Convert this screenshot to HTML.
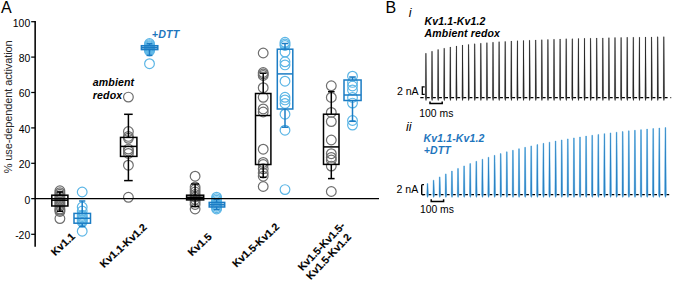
<!DOCTYPE html><html><head><meta charset="utf-8"><style>html,body{margin:0;padding:0;background:#fff}svg{display:block}text{font-family:"Liberation Sans",sans-serif}</style></head><body>
<svg width="675" height="281" viewBox="0 0 675 281">
<rect width="675" height="281" fill="#fff"/>
<circle cx="59.9" cy="190.8" r="4.85" fill="none" stroke="#6e6e6e" stroke-width="1.2"/>
<circle cx="59.9" cy="192.7" r="4.85" fill="none" stroke="#6e6e6e" stroke-width="1.2"/>
<circle cx="59.9" cy="194.3" r="4.85" fill="none" stroke="#6e6e6e" stroke-width="1.2"/>
<circle cx="59.9" cy="196" r="4.85" fill="none" stroke="#6e6e6e" stroke-width="1.2"/>
<circle cx="59.9" cy="197.5" r="4.85" fill="none" stroke="#6e6e6e" stroke-width="1.2"/>
<circle cx="59.9" cy="199" r="4.85" fill="none" stroke="#6e6e6e" stroke-width="1.2"/>
<circle cx="59.9" cy="200.5" r="4.85" fill="none" stroke="#6e6e6e" stroke-width="1.2"/>
<circle cx="59.9" cy="202" r="4.85" fill="none" stroke="#6e6e6e" stroke-width="1.2"/>
<circle cx="59.9" cy="203.5" r="4.85" fill="none" stroke="#6e6e6e" stroke-width="1.2"/>
<circle cx="59.9" cy="205" r="4.85" fill="none" stroke="#6e6e6e" stroke-width="1.2"/>
<circle cx="59.9" cy="206.5" r="4.85" fill="none" stroke="#6e6e6e" stroke-width="1.2"/>
<circle cx="59.9" cy="209.1" r="4.85" fill="none" stroke="#6e6e6e" stroke-width="1.2"/>
<circle cx="59.9" cy="210.3" r="4.85" fill="none" stroke="#6e6e6e" stroke-width="1.2"/>
<circle cx="59.9" cy="211.5" r="4.85" fill="none" stroke="#6e6e6e" stroke-width="1.2"/>
<circle cx="59.9" cy="218.6" r="4.85" fill="none" stroke="#6e6e6e" stroke-width="1.2"/>
<circle cx="82.2" cy="192" r="4.85" fill="none" stroke="#5cb6e6" stroke-width="1.2"/>
<circle cx="82.2" cy="207" r="4.85" fill="none" stroke="#5cb6e6" stroke-width="1.2"/>
<circle cx="82.2" cy="211" r="4.85" fill="none" stroke="#5cb6e6" stroke-width="1.2"/>
<circle cx="82.2" cy="215.2" r="4.85" fill="none" stroke="#5cb6e6" stroke-width="1.2"/>
<circle cx="82.2" cy="216.6" r="4.85" fill="none" stroke="#5cb6e6" stroke-width="1.2"/>
<circle cx="82.2" cy="218" r="4.85" fill="none" stroke="#5cb6e6" stroke-width="1.2"/>
<circle cx="82.2" cy="219.4" r="4.85" fill="none" stroke="#5cb6e6" stroke-width="1.2"/>
<circle cx="82.2" cy="220.8" r="4.85" fill="none" stroke="#5cb6e6" stroke-width="1.2"/>
<circle cx="82.2" cy="222.2" r="4.85" fill="none" stroke="#5cb6e6" stroke-width="1.2"/>
<circle cx="82.2" cy="231.2" r="4.85" fill="none" stroke="#5cb6e6" stroke-width="1.2"/>
<circle cx="128.4" cy="97.1" r="4.85" fill="none" stroke="#6e6e6e" stroke-width="1.2"/>
<circle cx="128.4" cy="131.5" r="4.85" fill="none" stroke="#6e6e6e" stroke-width="1.2"/>
<circle cx="128.4" cy="136.4" r="4.85" fill="none" stroke="#6e6e6e" stroke-width="1.2"/>
<circle cx="128.4" cy="138.3" r="4.85" fill="none" stroke="#6e6e6e" stroke-width="1.2"/>
<circle cx="128.4" cy="149.1" r="4.85" fill="none" stroke="#6e6e6e" stroke-width="1.2"/>
<circle cx="128.4" cy="151" r="4.85" fill="none" stroke="#6e6e6e" stroke-width="1.2"/>
<circle cx="128.4" cy="153.4" r="4.85" fill="none" stroke="#6e6e6e" stroke-width="1.2"/>
<circle cx="128.4" cy="165.2" r="4.85" fill="none" stroke="#6e6e6e" stroke-width="1.2"/>
<circle cx="128.4" cy="197.3" r="4.85" fill="none" stroke="#6e6e6e" stroke-width="1.2"/>
<circle cx="149.5" cy="43.5" r="4.85" fill="none" stroke="#5cb6e6" stroke-width="1.2"/>
<circle cx="149.5" cy="44.6" r="4.85" fill="none" stroke="#5cb6e6" stroke-width="1.2"/>
<circle cx="149.5" cy="45.7" r="4.85" fill="none" stroke="#5cb6e6" stroke-width="1.2"/>
<circle cx="149.5" cy="46.8" r="4.85" fill="none" stroke="#5cb6e6" stroke-width="1.2"/>
<circle cx="149.5" cy="47.9" r="4.85" fill="none" stroke="#5cb6e6" stroke-width="1.2"/>
<circle cx="149.5" cy="49" r="4.85" fill="none" stroke="#5cb6e6" stroke-width="1.2"/>
<circle cx="149.5" cy="50.1" r="4.85" fill="none" stroke="#5cb6e6" stroke-width="1.2"/>
<circle cx="149.5" cy="51" r="4.85" fill="none" stroke="#5cb6e6" stroke-width="1.2"/>
<circle cx="149.5" cy="63.7" r="4.85" fill="none" stroke="#5cb6e6" stroke-width="1.2"/>
<circle cx="195.1" cy="176.2" r="4.85" fill="none" stroke="#6e6e6e" stroke-width="1.2"/>
<circle cx="195.1" cy="187" r="4.85" fill="none" stroke="#6e6e6e" stroke-width="1.2"/>
<circle cx="195.1" cy="189.5" r="4.85" fill="none" stroke="#6e6e6e" stroke-width="1.2"/>
<circle cx="195.1" cy="192" r="4.85" fill="none" stroke="#6e6e6e" stroke-width="1.2"/>
<circle cx="195.1" cy="194.5" r="4.85" fill="none" stroke="#6e6e6e" stroke-width="1.2"/>
<circle cx="195.1" cy="197" r="4.85" fill="none" stroke="#6e6e6e" stroke-width="1.2"/>
<circle cx="195.1" cy="199.5" r="4.85" fill="none" stroke="#6e6e6e" stroke-width="1.2"/>
<circle cx="195.1" cy="202" r="4.85" fill="none" stroke="#6e6e6e" stroke-width="1.2"/>
<circle cx="195.1" cy="204.5" r="4.85" fill="none" stroke="#6e6e6e" stroke-width="1.2"/>
<circle cx="195.1" cy="209" r="4.85" fill="none" stroke="#6e6e6e" stroke-width="1.2"/>
<circle cx="216.6" cy="197.2" r="4.85" fill="none" stroke="#5cb6e6" stroke-width="1.2"/>
<circle cx="216.6" cy="198.7" r="4.85" fill="none" stroke="#5cb6e6" stroke-width="1.2"/>
<circle cx="216.6" cy="200.2" r="4.85" fill="none" stroke="#5cb6e6" stroke-width="1.2"/>
<circle cx="216.6" cy="201.7" r="4.85" fill="none" stroke="#5cb6e6" stroke-width="1.2"/>
<circle cx="216.6" cy="203.2" r="4.85" fill="none" stroke="#5cb6e6" stroke-width="1.2"/>
<circle cx="216.6" cy="204.7" r="4.85" fill="none" stroke="#5cb6e6" stroke-width="1.2"/>
<circle cx="216.6" cy="206.2" r="4.85" fill="none" stroke="#5cb6e6" stroke-width="1.2"/>
<circle cx="216.6" cy="207.7" r="4.85" fill="none" stroke="#5cb6e6" stroke-width="1.2"/>
<circle cx="216.6" cy="209" r="4.85" fill="none" stroke="#5cb6e6" stroke-width="1.2"/>
<circle cx="263.2" cy="53" r="4.85" fill="none" stroke="#6e6e6e" stroke-width="1.2"/>
<circle cx="263.2" cy="72.5" r="4.85" fill="none" stroke="#6e6e6e" stroke-width="1.2"/>
<circle cx="263.2" cy="74" r="4.85" fill="none" stroke="#6e6e6e" stroke-width="1.2"/>
<circle cx="263.2" cy="75.5" r="4.85" fill="none" stroke="#6e6e6e" stroke-width="1.2"/>
<circle cx="263.2" cy="87.7" r="4.85" fill="none" stroke="#6e6e6e" stroke-width="1.2"/>
<circle cx="263.2" cy="97.3" r="4.85" fill="none" stroke="#6e6e6e" stroke-width="1.2"/>
<circle cx="263.2" cy="108.9" r="4.85" fill="none" stroke="#6e6e6e" stroke-width="1.2"/>
<circle cx="263.2" cy="112" r="4.85" fill="none" stroke="#6e6e6e" stroke-width="1.2"/>
<circle cx="263.2" cy="149.2" r="4.85" fill="none" stroke="#6e6e6e" stroke-width="1.2"/>
<circle cx="263.2" cy="162.4" r="4.85" fill="none" stroke="#6e6e6e" stroke-width="1.2"/>
<circle cx="263.2" cy="164.5" r="4.85" fill="none" stroke="#6e6e6e" stroke-width="1.2"/>
<circle cx="263.2" cy="168.8" r="4.85" fill="none" stroke="#6e6e6e" stroke-width="1.2"/>
<circle cx="263.2" cy="173" r="4.85" fill="none" stroke="#6e6e6e" stroke-width="1.2"/>
<circle cx="263.2" cy="176.2" r="4.85" fill="none" stroke="#6e6e6e" stroke-width="1.2"/>
<circle cx="263.2" cy="186.5" r="4.85" fill="none" stroke="#6e6e6e" stroke-width="1.2"/>
<circle cx="285" cy="42.3" r="4.85" fill="none" stroke="#5cb6e6" stroke-width="1.2"/>
<circle cx="285" cy="44" r="4.85" fill="none" stroke="#5cb6e6" stroke-width="1.2"/>
<circle cx="285" cy="45.5" r="4.85" fill="none" stroke="#5cb6e6" stroke-width="1.2"/>
<circle cx="285" cy="52.1" r="4.85" fill="none" stroke="#5cb6e6" stroke-width="1.2"/>
<circle cx="285" cy="61.8" r="4.85" fill="none" stroke="#5cb6e6" stroke-width="1.2"/>
<circle cx="285" cy="64.9" r="4.85" fill="none" stroke="#5cb6e6" stroke-width="1.2"/>
<circle cx="285" cy="81.2" r="4.85" fill="none" stroke="#5cb6e6" stroke-width="1.2"/>
<circle cx="285" cy="97.3" r="4.85" fill="none" stroke="#5cb6e6" stroke-width="1.2"/>
<circle cx="285" cy="99.9" r="4.85" fill="none" stroke="#5cb6e6" stroke-width="1.2"/>
<circle cx="285" cy="103.5" r="4.85" fill="none" stroke="#5cb6e6" stroke-width="1.2"/>
<circle cx="285" cy="114.2" r="4.85" fill="none" stroke="#5cb6e6" stroke-width="1.2"/>
<circle cx="285" cy="130.2" r="4.85" fill="none" stroke="#5cb6e6" stroke-width="1.2"/>
<circle cx="285" cy="189.6" r="4.85" fill="none" stroke="#5cb6e6" stroke-width="1.2"/>
<circle cx="331.3" cy="85.8" r="4.85" fill="none" stroke="#6e6e6e" stroke-width="1.2"/>
<circle cx="331.3" cy="97.4" r="4.85" fill="none" stroke="#6e6e6e" stroke-width="1.2"/>
<circle cx="331.3" cy="112.4" r="4.85" fill="none" stroke="#6e6e6e" stroke-width="1.2"/>
<circle cx="331.3" cy="121.6" r="4.85" fill="none" stroke="#6e6e6e" stroke-width="1.2"/>
<circle cx="331.3" cy="140" r="4.85" fill="none" stroke="#6e6e6e" stroke-width="1.2"/>
<circle cx="331.3" cy="153.7" r="4.85" fill="none" stroke="#6e6e6e" stroke-width="1.2"/>
<circle cx="331.3" cy="157.4" r="4.85" fill="none" stroke="#6e6e6e" stroke-width="1.2"/>
<circle cx="331.3" cy="159.9" r="4.85" fill="none" stroke="#6e6e6e" stroke-width="1.2"/>
<circle cx="331.3" cy="166.1" r="4.85" fill="none" stroke="#6e6e6e" stroke-width="1.2"/>
<circle cx="331.3" cy="191.5" r="4.85" fill="none" stroke="#6e6e6e" stroke-width="1.2"/>
<circle cx="352.5" cy="76.2" r="4.85" fill="none" stroke="#5cb6e6" stroke-width="1.2"/>
<circle cx="352.5" cy="82.4" r="4.85" fill="none" stroke="#5cb6e6" stroke-width="1.2"/>
<circle cx="352.5" cy="86" r="4.85" fill="none" stroke="#5cb6e6" stroke-width="1.2"/>
<circle cx="352.5" cy="90" r="4.85" fill="none" stroke="#5cb6e6" stroke-width="1.2"/>
<circle cx="352.5" cy="97.4" r="4.85" fill="none" stroke="#5cb6e6" stroke-width="1.2"/>
<circle cx="352.5" cy="103.1" r="4.85" fill="none" stroke="#5cb6e6" stroke-width="1.2"/>
<circle cx="352.5" cy="120.5" r="4.85" fill="none" stroke="#5cb6e6" stroke-width="1.2"/>
<circle cx="352.5" cy="125.1" r="4.85" fill="none" stroke="#5cb6e6" stroke-width="1.2"/>
<g stroke="#000" stroke-width="1.5" fill="none">
<rect x="51.8" y="195.2" width="16.10000000000001" height="10.800000000000011" fill="#000" fill-opacity="0"/>
<line x1="51.8" y1="200.2" x2="67.9" y2="200.2"/>
<line x1="59.9" y1="192" x2="59.9" y2="195.2"/>
<line x1="59.9" y1="206" x2="59.9" y2="211.3"/>
<line x1="56.8" y1="192" x2="63.0" y2="192"/>
<line x1="56.8" y1="211.3" x2="63.0" y2="211.3"/>
</g>
<g stroke="#1b7cc4" stroke-width="1.5" fill="none">
<rect x="74" y="213.4" width="16.5" height="9.799999999999983" fill="#1b7cc4" fill-opacity="0"/>
<line x1="74" y1="218.3" x2="90.5" y2="218.3"/>
<line x1="82.2" y1="201" x2="82.2" y2="213.4"/>
<line x1="82.2" y1="223.2" x2="82.2" y2="226.5"/>
<line x1="79.10000000000001" y1="201" x2="85.3" y2="201"/>
<line x1="79.10000000000001" y1="226.5" x2="85.3" y2="226.5"/>
</g>
<g stroke="#000" stroke-width="1.5" fill="none">
<rect x="120.5" y="137.4" width="16.400000000000006" height="19.0" fill="#000" fill-opacity="0"/>
<line x1="120.5" y1="146.4" x2="136.9" y2="146.4"/>
<line x1="128.4" y1="114.3" x2="128.4" y2="137.4"/>
<line x1="128.4" y1="156.4" x2="128.4" y2="180.6"/>
<line x1="124.10000000000001" y1="114.3" x2="132.70000000000002" y2="114.3"/>
<line x1="124.10000000000001" y1="180.6" x2="132.70000000000002" y2="180.6"/>
</g>
<g stroke="#1b7cc4" stroke-width="1.5" fill="none">
<rect x="141.4" y="45.7" width="16.400000000000006" height="3.8999999999999986" fill="#1b7cc4" fill-opacity="0.35"/>
<line x1="141.4" y1="47.65" x2="157.8" y2="47.65"/>
<line x1="149.5" y1="43.7" x2="149.5" y2="45.7"/>
<line x1="149.5" y1="49.6" x2="149.5" y2="55.4"/>
<line x1="146.6" y1="43.7" x2="152.4" y2="43.7"/>
<line x1="146.6" y1="55.4" x2="152.4" y2="55.4"/>
</g>
<g stroke="#000" stroke-width="1.5" fill="none">
<rect x="186.6" y="195.2" width="17.099999999999994" height="4.700000000000017" fill="#000" fill-opacity="0.35"/>
<line x1="186.6" y1="197.5" x2="203.7" y2="197.5"/>
<line x1="195.1" y1="184" x2="195.1" y2="195.2"/>
<line x1="195.1" y1="199.9" x2="195.1" y2="206.5"/>
<line x1="191.2" y1="184" x2="199.0" y2="184"/>
<line x1="191.2" y1="206.5" x2="199.0" y2="206.5"/>
</g>
<g stroke="#1b7cc4" stroke-width="1.5" fill="none">
<rect x="209.2" y="202.4" width="15.5" height="4.599999999999994" fill="#1b7cc4" fill-opacity="0.3"/>
<line x1="209.2" y1="204.7" x2="224.7" y2="204.7"/>
<line x1="216.6" y1="199.5" x2="216.6" y2="202.4"/>
<line x1="216.6" y1="207" x2="216.6" y2="209.5"/>
<line x1="213.6" y1="199.5" x2="219.6" y2="199.5"/>
<line x1="213.6" y1="209.5" x2="219.6" y2="209.5"/>
</g>
<g stroke="#000" stroke-width="1.5" fill="none">
<rect x="255.5" y="93.5" width="15.399999999999977" height="71.0" fill="#000" fill-opacity="0"/>
<line x1="255.5" y1="115.5" x2="270.9" y2="115.5"/>
<line x1="263.2" y1="73.2" x2="263.2" y2="93.5"/>
<line x1="263.2" y1="164.5" x2="263.2" y2="177.3"/>
<line x1="259.9" y1="73.2" x2="266.5" y2="73.2"/>
<line x1="259.9" y1="177.3" x2="266.5" y2="177.3"/>
</g>
<g stroke="#1b7cc4" stroke-width="1.5" fill="none">
<rect x="277.3" y="49.2" width="15.5" height="59.8" fill="#1b7cc4" fill-opacity="0"/>
<line x1="277.3" y1="73.9" x2="292.8" y2="73.9"/>
<line x1="285" y1="43.5" x2="285" y2="49.2"/>
<line x1="285" y1="109" x2="285" y2="127.2"/>
<line x1="281.7" y1="43.5" x2="288.3" y2="43.5"/>
<line x1="281.7" y1="127.2" x2="288.3" y2="127.2"/>
</g>
<g stroke="#000" stroke-width="1.5" fill="none">
<rect x="323.5" y="114.2" width="15.5" height="50.2" fill="#000" fill-opacity="0"/>
<line x1="323.5" y1="146.9" x2="339" y2="146.9"/>
<line x1="331.3" y1="91.7" x2="331.3" y2="114.2"/>
<line x1="331.3" y1="164.4" x2="331.3" y2="178.6"/>
<line x1="328.0" y1="91.7" x2="334.6" y2="91.7"/>
<line x1="328.0" y1="178.6" x2="334.6" y2="178.6"/>
</g>
<g stroke="#1b7cc4" stroke-width="1.5" fill="none">
<rect x="344" y="80" width="17.100000000000023" height="20.5" fill="#1b7cc4" fill-opacity="0"/>
<line x1="344" y1="95" x2="361.1" y2="95"/>
<line x1="352.5" y1="77" x2="352.5" y2="80"/>
<line x1="352.5" y1="100.5" x2="352.5" y2="121.3"/>
<line x1="349.2" y1="77" x2="355.8" y2="77"/>
<line x1="349.2" y1="121.3" x2="355.8" y2="121.3"/>
</g>
<line x1="35.15" y1="21" x2="35.15" y2="246.8" stroke="#000" stroke-width="1.55"/>
<line x1="35" y1="198.65" x2="379" y2="198.65" stroke="#000" stroke-width="1.15"/>
<line x1="31.2" y1="21.7" x2="35" y2="21.7" stroke="#000" stroke-width="1.25"/>
<line x1="31.2" y1="57.1" x2="35" y2="57.1" stroke="#000" stroke-width="1.25"/>
<line x1="31.2" y1="92.5" x2="35" y2="92.5" stroke="#000" stroke-width="1.25"/>
<line x1="31.2" y1="127.9" x2="35" y2="127.9" stroke="#000" stroke-width="1.25"/>
<line x1="31.2" y1="163.3" x2="35" y2="163.3" stroke="#000" stroke-width="1.25"/>
<line x1="31.2" y1="198.65" x2="35" y2="198.65" stroke="#000" stroke-width="1.25"/>
<line x1="31.2" y1="234.3" x2="35" y2="234.3" stroke="#000" stroke-width="1.25"/>
<text x="30.2" y="26.6" font-size="10.4" text-anchor="end" fill="#000">100</text>
<text x="30.2" y="62.0" font-size="10.4" text-anchor="end" fill="#000">80</text>
<text x="30.2" y="97.4" font-size="10.4" text-anchor="end" fill="#000">60</text>
<text x="30.2" y="132.8" font-size="10.4" text-anchor="end" fill="#000">40</text>
<text x="30.2" y="168.20000000000002" font-size="10.4" text-anchor="end" fill="#000">20</text>
<text x="30.2" y="203.55" font-size="10.4" text-anchor="end" fill="#000">0</text>
<text x="30.2" y="239.20000000000002" font-size="10.4" text-anchor="end" fill="#000">-20</text>
<text transform="translate(12.3,106.85) rotate(-90)" font-size="11" text-anchor="middle" textLength="133" lengthAdjust="spacing" fill="#262626">% use-dependent activation</text>
<text x="0.9" y="12.7" font-size="16" fill="#000">A</text>
<text x="385.5" y="12.7" font-size="16" fill="#000">B</text>
<text x="92.8" y="86.3" font-size="10.6" letter-spacing="0.12" font-weight="bold" font-style="italic" fill="#000">ambient</text>
<text x="92.8" y="98.7" font-size="10.6" letter-spacing="0.12" font-weight="bold" font-style="italic" fill="#000">redox</text>
<text x="151.8" y="38" font-size="10.7" letter-spacing="0.15" font-weight="bold" font-style="italic" fill="#1e75bd">+DTT</text>
<text transform="translate(55.3,256.15) scale(1.05,1) rotate(-44)" font-size="10.2" font-weight="bold" fill="#000" stroke="#000" stroke-width="0.15">Kv1.1</text>
<text transform="translate(104,268.15) scale(1.05,1) rotate(-44)" font-size="10.2" font-weight="bold" fill="#000" stroke="#000" stroke-width="0.15">Kv1.1-Kv1.2</text>
<text transform="translate(191.9,256.54999999999995) scale(1.05,1) rotate(-44)" font-size="10.2" font-weight="bold" fill="#000" stroke="#000" stroke-width="0.15">Kv1.5</text>
<text transform="translate(236.5,267.65) scale(1.05,1) rotate(-44)" font-size="10.2" font-weight="bold" fill="#000" stroke="#000" stroke-width="0.15">Kv1.5-Kv1.2</text>
<text transform="translate(302.4,271.34999999999997) scale(1.05,1) rotate(-47.5)" font-size="10.2" font-weight="bold" fill="#000" stroke="#000" stroke-width="0.15">Kv1.5-Kv1.5-</text>
<text transform="translate(310.8,280.25) scale(1.05,1) rotate(-47.5)" font-size="10.2" font-weight="bold" fill="#000" stroke="#000" stroke-width="0.15">Kv1.5-Kv1.2</text>
<text x="408.7" y="17.4" font-size="12.5" font-style="italic" fill="#000">i</text>
<text x="424.6" y="25.4" font-size="10.5" letter-spacing="0.12" font-weight="bold" font-style="italic" fill="#000">Kv1.1-Kv1.2</text>
<text x="424.6" y="37.3" font-size="10.5" letter-spacing="0.15" font-weight="bold" font-style="italic" fill="#000">Ambient redox</text>
<text x="406" y="131.3" font-size="12.5" font-style="italic" fill="#000">ii</text>
<text x="423.6" y="142.2" font-size="10.5" letter-spacing="0.12" font-weight="bold" font-style="italic" fill="#1e75bd">Kv1.1-Kv1.2</text>
<text x="423.8" y="154.4" font-size="10.5" letter-spacing="0.1" font-weight="bold" font-style="italic" fill="#1e75bd">+DTT</text>
<line x1="420.3" y1="97.7" x2="671.2" y2="97.7" stroke="#000" stroke-width="1.2" stroke-dasharray="3.3 2.8"/>
<path d="M425.50 53.30L426.30 53.30L426.70 97.70L426.25 100.50L425.75 100.50L425.25 97.70ZM431.60 51.24L432.40 51.24L432.80 97.70L432.35 100.50L431.85 100.50L431.35 97.70ZM437.70 49.55L438.50 49.55L438.90 97.70L438.45 100.50L437.95 100.50L437.45 97.70ZM443.80 48.14L444.60 48.14L445.00 97.70L444.55 100.50L444.05 100.50L443.55 97.70ZM449.90 46.96L450.70 46.96L451.10 97.70L450.65 100.50L450.15 100.50L449.65 97.70ZM456.00 45.97L456.80 45.97L457.20 97.70L456.75 100.50L456.25 100.50L455.75 97.70ZM462.10 45.12L462.90 45.12L463.30 97.70L462.85 100.50L462.35 100.50L461.85 97.70ZM468.20 44.38L469.00 44.38L469.40 97.70L468.95 100.50L468.45 100.50L467.95 97.70ZM474.30 43.74L475.10 43.74L475.50 97.70L475.05 100.50L474.55 100.50L474.05 97.70ZM480.40 43.18L481.20 43.18L481.60 97.70L481.15 100.50L480.65 100.50L480.15 97.70ZM486.50 42.67L487.30 42.67L487.70 97.70L487.25 100.50L486.75 100.50L486.25 97.70ZM492.60 42.22L493.40 42.22L493.80 97.70L493.35 100.50L492.85 100.50L492.35 97.70ZM498.70 41.81L499.50 41.81L499.90 97.70L499.45 100.50L498.95 100.50L498.45 97.70ZM504.80 41.44L505.60 41.44L506.00 97.70L505.55 100.50L505.05 100.50L504.55 97.70ZM510.90 41.10L511.70 41.10L512.10 97.70L511.65 100.50L511.15 100.50L510.65 97.70ZM517.00 40.78L517.80 40.78L518.20 97.70L517.75 100.50L517.25 100.50L516.75 97.70ZM523.10 40.49L523.90 40.49L524.30 97.70L523.85 100.50L523.35 100.50L522.85 97.70ZM529.20 40.21L530.00 40.21L530.40 97.70L529.95 100.50L529.45 100.50L528.95 97.70ZM535.30 39.95L536.10 39.95L536.50 97.70L536.05 100.50L535.55 100.50L535.05 97.70ZM541.40 39.71L542.20 39.71L542.60 97.70L542.15 100.50L541.65 100.50L541.15 97.70ZM547.50 39.48L548.30 39.48L548.70 97.70L548.25 100.50L547.75 100.50L547.25 97.70ZM553.60 39.26L554.40 39.26L554.80 97.70L554.35 100.50L553.85 100.50L553.35 97.70ZM559.70 39.06L560.50 39.06L560.90 97.70L560.45 100.50L559.95 100.50L559.45 97.70ZM565.80 38.86L566.60 38.86L567.00 97.70L566.55 100.50L566.05 100.50L565.55 97.70ZM571.90 38.68L572.70 38.68L573.10 97.70L572.65 100.50L572.15 100.50L571.65 97.70ZM578.00 38.50L578.80 38.50L579.20 97.70L578.75 100.50L578.25 100.50L577.75 97.70ZM584.10 38.34L584.90 38.34L585.30 97.70L584.85 100.50L584.35 100.50L583.85 97.70ZM590.20 38.18L591.00 38.18L591.40 97.70L590.95 100.50L590.45 100.50L589.95 97.70ZM596.30 38.03L597.10 38.03L597.50 97.70L597.05 100.50L596.55 100.50L596.05 97.70ZM602.40 37.88L603.20 37.88L603.60 97.70L603.15 100.50L602.65 100.50L602.15 97.70ZM608.50 37.74L609.30 37.74L609.70 97.70L609.25 100.50L608.75 100.50L608.25 97.70ZM614.60 37.61L615.40 37.61L615.80 97.70L615.35 100.50L614.85 100.50L614.35 97.70ZM620.70 37.49L621.50 37.49L621.90 97.70L621.45 100.50L620.95 100.50L620.45 97.70ZM626.80 37.37L627.60 37.37L628.00 97.70L627.55 100.50L627.05 100.50L626.55 97.70ZM632.90 37.25L633.70 37.25L634.10 97.70L633.65 100.50L633.15 100.50L632.65 97.70ZM639.00 37.14L639.80 37.14L640.20 97.70L639.75 100.50L639.25 100.50L638.75 97.70ZM645.10 37.04L645.90 37.04L646.30 97.70L645.85 100.50L645.35 100.50L644.85 97.70ZM651.20 36.94L652.00 36.94L652.40 97.70L651.95 100.50L651.45 100.50L650.95 97.70ZM657.30 36.84L658.10 36.84L658.50 97.70L658.05 100.50L657.55 100.50L657.05 97.70ZM663.40 36.75L664.20 36.75L664.60 97.70L664.15 100.50L663.65 100.50L663.15 97.70Z" fill="#8a8a8a" stroke="#8a8a8a" stroke-width="0.25" stroke-linejoin="round"/>
<path d="M425.50 53.30L426.30 53.30L426.70 97.70L426.25 100.50L425.75 100.50L425.25 97.70ZM431.60 51.24L432.40 51.24L432.80 97.70L432.35 100.50L431.85 100.50L431.35 97.70ZM437.70 49.55L438.50 49.55L438.90 97.70L438.45 100.50L437.95 100.50L437.45 97.70ZM443.80 48.14L444.60 48.14L445.00 97.70L444.55 100.50L444.05 100.50L443.55 97.70ZM449.90 46.96L450.70 46.96L451.10 97.70L450.65 100.50L450.15 100.50L449.65 97.70ZM456.00 45.97L456.80 45.97L457.20 97.70L456.75 100.50L456.25 100.50L455.75 97.70ZM462.10 45.12L462.90 45.12L463.30 97.70L462.85 100.50L462.35 100.50L461.85 97.70ZM468.20 44.38L469.00 44.38L469.40 97.70L468.95 100.50L468.45 100.50L467.95 97.70ZM474.30 43.74L475.10 43.74L475.50 97.70L475.05 100.50L474.55 100.50L474.05 97.70ZM480.40 43.18L481.20 43.18L481.60 97.70L481.15 100.50L480.65 100.50L480.15 97.70ZM486.50 42.67L487.30 42.67L487.70 97.70L487.25 100.50L486.75 100.50L486.25 97.70ZM492.60 42.22L493.40 42.22L493.80 97.70L493.35 100.50L492.85 100.50L492.35 97.70ZM498.70 41.81L499.50 41.81L499.90 97.70L499.45 100.50L498.95 100.50L498.45 97.70ZM504.80 41.44L505.60 41.44L506.00 97.70L505.55 100.50L505.05 100.50L504.55 97.70ZM510.90 41.10L511.70 41.10L512.10 97.70L511.65 100.50L511.15 100.50L510.65 97.70ZM517.00 40.78L517.80 40.78L518.20 97.70L517.75 100.50L517.25 100.50L516.75 97.70ZM523.10 40.49L523.90 40.49L524.30 97.70L523.85 100.50L523.35 100.50L522.85 97.70ZM529.20 40.21L530.00 40.21L530.40 97.70L529.95 100.50L529.45 100.50L528.95 97.70ZM535.30 39.95L536.10 39.95L536.50 97.70L536.05 100.50L535.55 100.50L535.05 97.70ZM541.40 39.71L542.20 39.71L542.60 97.70L542.15 100.50L541.65 100.50L541.15 97.70ZM547.50 39.48L548.30 39.48L548.70 97.70L548.25 100.50L547.75 100.50L547.25 97.70ZM553.60 39.26L554.40 39.26L554.80 97.70L554.35 100.50L553.85 100.50L553.35 97.70ZM559.70 39.06L560.50 39.06L560.90 97.70L560.45 100.50L559.95 100.50L559.45 97.70ZM565.80 38.86L566.60 38.86L567.00 97.70L566.55 100.50L566.05 100.50L565.55 97.70ZM571.90 38.68L572.70 38.68L573.10 97.70L572.65 100.50L572.15 100.50L571.65 97.70ZM578.00 38.50L578.80 38.50L579.20 97.70L578.75 100.50L578.25 100.50L577.75 97.70ZM584.10 38.34L584.90 38.34L585.30 97.70L584.85 100.50L584.35 100.50L583.85 97.70ZM590.20 38.18L591.00 38.18L591.40 97.70L590.95 100.50L590.45 100.50L589.95 97.70ZM596.30 38.03L597.10 38.03L597.50 97.70L597.05 100.50L596.55 100.50L596.05 97.70ZM602.40 37.88L603.20 37.88L603.60 97.70L603.15 100.50L602.65 100.50L602.15 97.70ZM608.50 37.74L609.30 37.74L609.70 97.70L609.25 100.50L608.75 100.50L608.25 97.70ZM614.60 37.61L615.40 37.61L615.80 97.70L615.35 100.50L614.85 100.50L614.35 97.70ZM620.70 37.49L621.50 37.49L621.90 97.70L621.45 100.50L620.95 100.50L620.45 97.70ZM626.80 37.37L627.60 37.37L628.00 97.70L627.55 100.50L627.05 100.50L626.55 97.70ZM632.90 37.25L633.70 37.25L634.10 97.70L633.65 100.50L633.15 100.50L632.65 97.70ZM639.00 37.14L639.80 37.14L640.20 97.70L639.75 100.50L639.25 100.50L638.75 97.70ZM645.10 37.04L645.90 37.04L646.30 97.70L645.85 100.50L645.35 100.50L644.85 97.70ZM651.20 36.94L652.00 36.94L652.40 97.70L651.95 100.50L651.45 100.50L650.95 97.70ZM657.30 36.84L658.10 36.84L658.50 97.70L658.05 100.50L657.55 100.50L657.05 97.70ZM663.40 36.75L664.20 36.75L664.60 97.70L664.15 100.50L663.65 100.50L663.15 97.70Z" fill="#262626"/>
<line x1="421.9" y1="194.6" x2="671.5" y2="194.6" stroke="#000" stroke-width="1.2" stroke-dasharray="3.3 2.8"/>
<path d="M427.15 183.60L427.85 183.60L428.35 194.60L427.85 197.20L427.35 197.20L426.80 194.60ZM433.25 180.14L433.95 180.14L434.45 194.60L433.95 197.20L433.45 197.20L432.90 194.60ZM439.35 176.91L440.05 176.91L440.55 194.60L440.05 197.20L439.55 197.20L439.00 194.60ZM445.45 173.89L446.15 173.89L446.65 194.60L446.15 197.20L445.65 197.20L445.10 194.60ZM451.55 171.05L452.25 171.05L452.75 194.60L452.25 197.20L451.75 197.20L451.20 194.60ZM457.65 168.39L458.35 168.39L458.85 194.60L458.35 197.20L457.85 197.20L457.30 194.60ZM463.75 165.89L464.45 165.89L464.95 194.60L464.45 197.20L463.95 197.20L463.40 194.60ZM469.85 163.54L470.55 163.54L471.05 194.60L470.55 197.20L470.05 197.20L469.50 194.60ZM475.95 161.31L476.65 161.31L477.15 194.60L476.65 197.20L476.15 197.20L475.60 194.60ZM482.05 159.21L482.75 159.21L483.25 194.60L482.75 197.20L482.25 197.20L481.70 194.60ZM488.15 157.22L488.85 157.22L489.35 194.60L488.85 197.20L488.35 197.20L487.80 194.60ZM494.25 155.34L494.95 155.34L495.45 194.60L494.95 197.20L494.45 197.20L493.90 194.60ZM500.35 153.56L501.05 153.56L501.55 194.60L501.05 197.20L500.55 197.20L500.00 194.60ZM506.45 151.86L507.15 151.86L507.65 194.60L507.15 197.20L506.65 197.20L506.10 194.60ZM512.55 150.26L513.25 150.26L513.75 194.60L513.25 197.20L512.75 197.20L512.20 194.60ZM518.65 148.73L519.35 148.73L519.85 194.60L519.35 197.20L518.85 197.20L518.30 194.60ZM524.75 147.28L525.45 147.28L525.95 194.60L525.45 197.20L524.95 197.20L524.40 194.60ZM530.85 145.90L531.55 145.90L532.05 194.60L531.55 197.20L531.05 197.20L530.50 194.60ZM536.95 144.59L537.65 144.59L538.15 194.60L537.65 197.20L537.15 197.20L536.60 194.60ZM543.05 143.33L543.75 143.33L544.25 194.60L543.75 197.20L543.25 197.20L542.70 194.60ZM549.15 142.14L549.85 142.14L550.35 194.60L549.85 197.20L549.35 197.20L548.80 194.60ZM555.25 141.01L555.95 141.01L556.45 194.60L555.95 197.20L555.45 197.20L554.90 194.60ZM561.35 139.93L562.05 139.93L562.55 194.60L562.05 197.20L561.55 197.20L561.00 194.60ZM567.45 138.89L568.15 138.89L568.65 194.60L568.15 197.20L567.65 197.20L567.10 194.60ZM573.55 137.91L574.25 137.91L574.75 194.60L574.25 197.20L573.75 197.20L573.20 194.60ZM579.65 136.97L580.35 136.97L580.85 194.60L580.35 197.20L579.85 197.20L579.30 194.60ZM585.75 136.08L586.45 136.08L586.95 194.60L586.45 197.20L585.95 197.20L585.40 194.60ZM591.85 135.22L592.55 135.22L593.05 194.60L592.55 197.20L592.05 197.20L591.50 194.60ZM597.95 134.41L598.65 134.41L599.15 194.60L598.65 197.20L598.15 197.20L597.60 194.60ZM604.05 133.63L604.75 133.63L605.25 194.60L604.75 197.20L604.25 197.20L603.70 194.60ZM610.15 132.89L610.85 132.89L611.35 194.60L610.85 197.20L610.35 197.20L609.80 194.60ZM616.25 132.18L616.95 132.18L617.45 194.60L616.95 197.20L616.45 197.20L615.90 194.60ZM622.35 131.50L623.05 131.50L623.55 194.60L623.05 197.20L622.55 197.20L622.00 194.60ZM628.45 130.85L629.15 130.85L629.65 194.60L629.15 197.20L628.65 197.20L628.10 194.60ZM634.55 130.24L635.25 130.24L635.75 194.60L635.25 197.20L634.75 197.20L634.20 194.60ZM640.65 129.65L641.35 129.65L641.85 194.60L641.35 197.20L640.85 197.20L640.30 194.60ZM646.75 129.08L647.45 129.08L647.95 194.60L647.45 197.20L646.95 197.20L646.40 194.60ZM652.85 128.54L653.55 128.54L654.05 194.60L653.55 197.20L653.05 197.20L652.50 194.60ZM658.95 128.03L659.65 128.03L660.15 194.60L659.65 197.20L659.15 197.20L658.60 194.60ZM665.05 127.54L665.75 127.54L666.25 194.60L665.75 197.20L665.25 197.20L664.70 194.60Z" fill="#8cc8ec" stroke="#8cc8ec" stroke-width="0.8" stroke-linejoin="round"/>
<path d="M427.15 183.60L427.85 183.60L428.35 194.60L427.85 197.20L427.35 197.20L426.80 194.60ZM433.25 180.14L433.95 180.14L434.45 194.60L433.95 197.20L433.45 197.20L432.90 194.60ZM439.35 176.91L440.05 176.91L440.55 194.60L440.05 197.20L439.55 197.20L439.00 194.60ZM445.45 173.89L446.15 173.89L446.65 194.60L446.15 197.20L445.65 197.20L445.10 194.60ZM451.55 171.05L452.25 171.05L452.75 194.60L452.25 197.20L451.75 197.20L451.20 194.60ZM457.65 168.39L458.35 168.39L458.85 194.60L458.35 197.20L457.85 197.20L457.30 194.60ZM463.75 165.89L464.45 165.89L464.95 194.60L464.45 197.20L463.95 197.20L463.40 194.60ZM469.85 163.54L470.55 163.54L471.05 194.60L470.55 197.20L470.05 197.20L469.50 194.60ZM475.95 161.31L476.65 161.31L477.15 194.60L476.65 197.20L476.15 197.20L475.60 194.60ZM482.05 159.21L482.75 159.21L483.25 194.60L482.75 197.20L482.25 197.20L481.70 194.60ZM488.15 157.22L488.85 157.22L489.35 194.60L488.85 197.20L488.35 197.20L487.80 194.60ZM494.25 155.34L494.95 155.34L495.45 194.60L494.95 197.20L494.45 197.20L493.90 194.60ZM500.35 153.56L501.05 153.56L501.55 194.60L501.05 197.20L500.55 197.20L500.00 194.60ZM506.45 151.86L507.15 151.86L507.65 194.60L507.15 197.20L506.65 197.20L506.10 194.60ZM512.55 150.26L513.25 150.26L513.75 194.60L513.25 197.20L512.75 197.20L512.20 194.60ZM518.65 148.73L519.35 148.73L519.85 194.60L519.35 197.20L518.85 197.20L518.30 194.60ZM524.75 147.28L525.45 147.28L525.95 194.60L525.45 197.20L524.95 197.20L524.40 194.60ZM530.85 145.90L531.55 145.90L532.05 194.60L531.55 197.20L531.05 197.20L530.50 194.60ZM536.95 144.59L537.65 144.59L538.15 194.60L537.65 197.20L537.15 197.20L536.60 194.60ZM543.05 143.33L543.75 143.33L544.25 194.60L543.75 197.20L543.25 197.20L542.70 194.60ZM549.15 142.14L549.85 142.14L550.35 194.60L549.85 197.20L549.35 197.20L548.80 194.60ZM555.25 141.01L555.95 141.01L556.45 194.60L555.95 197.20L555.45 197.20L554.90 194.60ZM561.35 139.93L562.05 139.93L562.55 194.60L562.05 197.20L561.55 197.20L561.00 194.60ZM567.45 138.89L568.15 138.89L568.65 194.60L568.15 197.20L567.65 197.20L567.10 194.60ZM573.55 137.91L574.25 137.91L574.75 194.60L574.25 197.20L573.75 197.20L573.20 194.60ZM579.65 136.97L580.35 136.97L580.85 194.60L580.35 197.20L579.85 197.20L579.30 194.60ZM585.75 136.08L586.45 136.08L586.95 194.60L586.45 197.20L585.95 197.20L585.40 194.60ZM591.85 135.22L592.55 135.22L593.05 194.60L592.55 197.20L592.05 197.20L591.50 194.60ZM597.95 134.41L598.65 134.41L599.15 194.60L598.65 197.20L598.15 197.20L597.60 194.60ZM604.05 133.63L604.75 133.63L605.25 194.60L604.75 197.20L604.25 197.20L603.70 194.60ZM610.15 132.89L610.85 132.89L611.35 194.60L610.85 197.20L610.35 197.20L609.80 194.60ZM616.25 132.18L616.95 132.18L617.45 194.60L616.95 197.20L616.45 197.20L615.90 194.60ZM622.35 131.50L623.05 131.50L623.55 194.60L623.05 197.20L622.55 197.20L622.00 194.60ZM628.45 130.85L629.15 130.85L629.65 194.60L629.15 197.20L628.65 197.20L628.10 194.60ZM634.55 130.24L635.25 130.24L635.75 194.60L635.25 197.20L634.75 197.20L634.20 194.60ZM640.65 129.65L641.35 129.65L641.85 194.60L641.35 197.20L640.85 197.20L640.30 194.60ZM646.75 129.08L647.45 129.08L647.95 194.60L647.45 197.20L646.95 197.20L646.40 194.60ZM652.85 128.54L653.55 128.54L654.05 194.60L653.55 197.20L653.05 197.20L652.50 194.60ZM658.95 128.03L659.65 128.03L660.15 194.60L659.65 197.20L659.15 197.20L658.60 194.60ZM665.05 127.54L665.75 127.54L666.25 194.60L665.75 197.20L665.25 197.20L664.70 194.60Z" fill="#2a82c4"/>
<path d="M424.7 86.9H422.3V94.4H424.7" stroke="#000" stroke-width="1.3" fill="none"/>
<path d="M424 184.6H422.6Q421.7 184.6 421.7 185.5V193.7Q421.7 194.6 422.6 194.6H424" stroke="#000" stroke-width="1.4" fill="none"/>
<text x="396.9" y="94.7" font-size="10.6" fill="#000">2 nA</text>
<text x="396.5" y="193" font-size="10.6" fill="#000">2 nA</text>
<path d="M430 101.4V103.6H442.2V101.4" stroke="#000" stroke-width="1.5" fill="none"/>
<path d="M431.2 199.2V201.4H443.6V199.2" stroke="#000" stroke-width="1.5" fill="none"/>
<text x="419.3" y="116.5" font-size="10.4" fill="#000">100 ms</text>
<text x="419.9" y="213.3" font-size="10.4" fill="#000">100 ms</text>
</svg></body></html>
